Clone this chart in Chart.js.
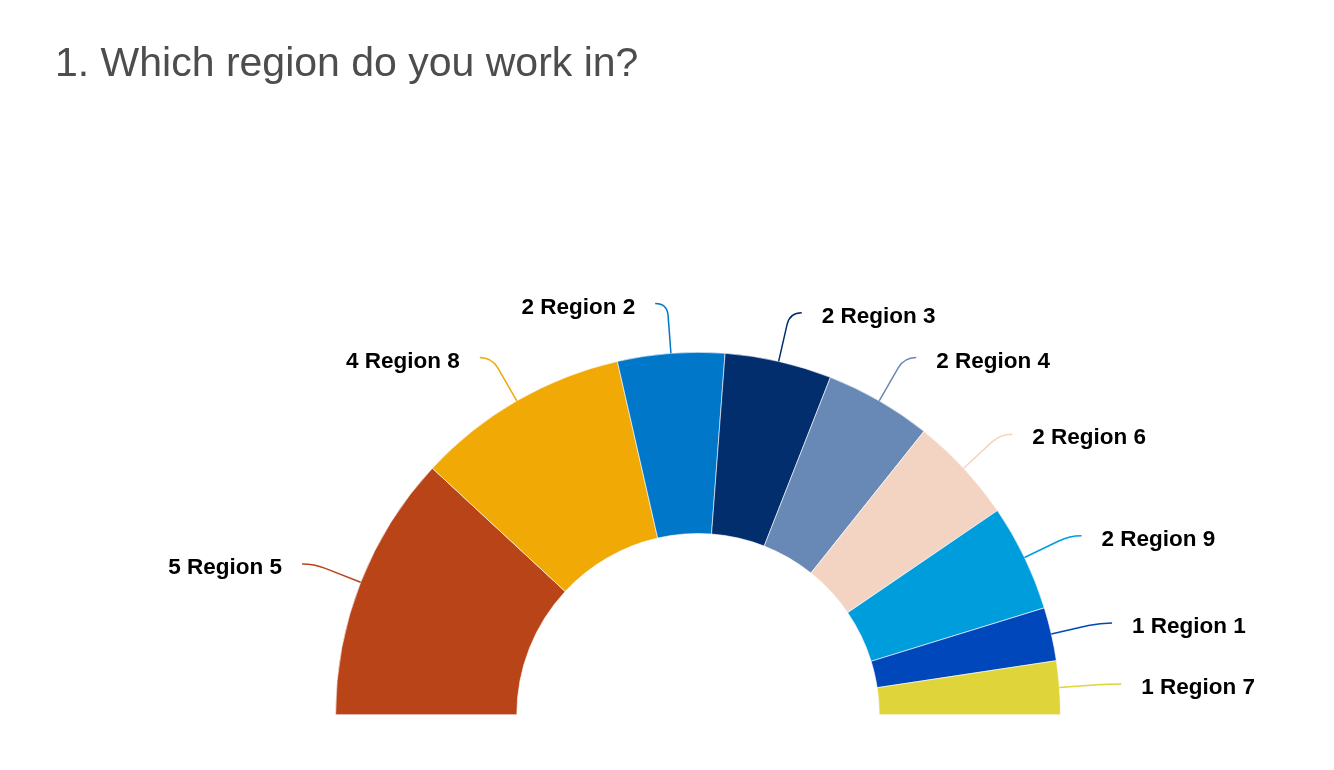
<!DOCTYPE html>
<html>
<head>
<meta charset="utf-8">
<script src="https://cdn.jsdelivr.net/npm/chart.js@4/dist/chart.umd.min.js"></script>
<style>
  body { margin: 0; background: #fff; }
  #wrap { position: relative; width: 1334px; height: 770px; }
  #title {
    position: absolute; left: 55px; top: 42px; margin: 0;
    font: 41px "Liberation Sans", Arial, sans-serif; line-height: 41px;
    color: #4d4d4d; font-weight: normal;
  }
</style>
</head>
<body>
<div id="wrap">
  <h1 id="title">1. Which region do you work in?</h1>
  <canvas id="region-chart"></canvas>
</div>
<script>
const regions = ['Region 5', 'Region 8', 'Region 2', 'Region 3', 'Region 4', 'Region 6', 'Region 9', 'Region 1', 'Region 7'];
const counts = [5, 4, 2, 2, 2, 2, 2, 1, 1];
const sliceColors = ['#b94418', '#f0a905', '#0077c8', '#032e6e', '#6889b6', '#f3d4c3', '#009ddd', '#0047bb', '#dfd439'];

// draws "count name" labels with a bent leader line for every slice
const leaderLabels = {
    id: 'leaderLabels',
    afterDatasetsDraw: function (chart) {
        let ctx = chart.ctx;
        let meta = chart.getDatasetMeta(0);
        meta.data.forEach(function (arc, i) {
            let p = arc.getProps(['x', 'y', 'startAngle', 'endAngle', 'outerRadius']);
            let mid = (p.startAngle + p.endAngle) / 2;
            let cos = Math.cos(mid), sin = Math.sin(mid);
            let side = cos < 0 ? -1 : 1;
            let rc = p.outerRadius + 50;
            let x0 = p.x + cos * p.outerRadius, y0 = p.y + sin * p.outerRadius;
            let xa = p.x + cos * (rc - 12), ya = p.y + sin * (rc - 12);
            let xc = p.x + cos * rc, yc = p.y + sin * rc;
            let xe = xc + side * 12, ye = yc;

            ctx.save();
            ctx.strokeStyle = sliceColors[i];
            ctx.lineWidth = 1.5;
            ctx.beginPath();
            ctx.moveTo(x0, y0);
            ctx.lineTo(xa, ya);
            ctx.quadraticCurveTo(xc, yc, xe, ye);
            ctx.stroke();

            ctx.fillStyle = '#000';
            ctx.font = 'bold 22.5px "Liberation Sans", Arial, sans-serif';
            ctx.textAlign = side < 0 ? 'right' : 'left';
            ctx.textBaseline = 'middle';
            ctx.fillText(counts[i] + ' ' + regions[i], xe + side * 20, ye + 4);
            ctx.restore();
        });
    }
};

const ctx = document.getElementById('region-chart').getContext('2d');
const chart = new Chart(ctx, {
    type: 'doughnut',
    data: {
        labels: regions,
        datasets: [{
            data: counts,
            backgroundColor: sliceColors,
            borderColor: '#ffffff',
            borderWidth: 0.6
        }]
    },
    options: {
        responsive: true,
        maintainAspectRatio: false,
        animation: false,
        rotation: -90,
        circumference: 180,
        cutout: '50%',
        layout: {
            padding: { left: 335, right: 273, top: 352, bottom: 55 }
        },
        plugins: {
            legend: { display: false },
            tooltip: { enabled: false }
        }
    },
    plugins: [leaderLabels]
});
</script>
</body>
</html>
